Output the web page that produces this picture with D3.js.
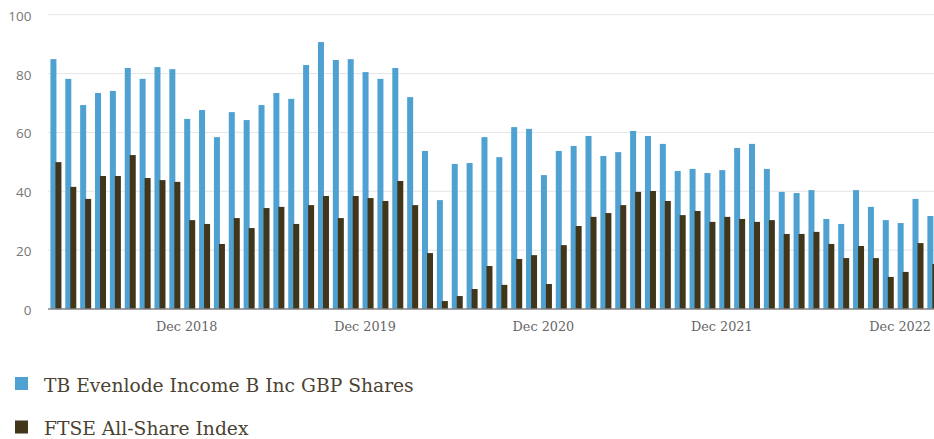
<!DOCTYPE html>
<html>
<head>
<meta charset="utf-8">
<script src="https://cdn.jsdelivr.net/npm/d3@7"></script>
<style>
    html, body { margin: 0; padding: 0; background: #fff; }
    svg { display: block; }
</style>
</head>
<body>
<div id="chart"></div>
<script>
const months = [
    'Mar 2018', 'Apr 2018', 'May 2018', 'Jun 2018', 'Jul 2018', 'Aug 2018', 'Sep 2018', 'Oct 2018', 'Nov 2018', 'Dec 2018',
    'Jan 2019', 'Feb 2019', 'Mar 2019', 'Apr 2019', 'May 2019', 'Jun 2019', 'Jul 2019', 'Aug 2019', 'Sep 2019', 'Oct 2019',
    'Nov 2019', 'Dec 2019', 'Jan 2020', 'Feb 2020', 'Mar 2020', 'Apr 2020', 'May 2020', 'Jun 2020', 'Jul 2020', 'Aug 2020',
    'Sep 2020', 'Oct 2020', 'Nov 2020', 'Dec 2020', 'Jan 2021', 'Feb 2021', 'Mar 2021', 'Apr 2021', 'May 2021', 'Jun 2021',
    'Jul 2021', 'Aug 2021', 'Sep 2021', 'Oct 2021', 'Nov 2021', 'Dec 2021', 'Jan 2022', 'Feb 2022', 'Mar 2022', 'Apr 2022',
    'May 2022', 'Jun 2022', 'Jul 2022', 'Aug 2022', 'Sep 2022', 'Oct 2022', 'Nov 2022', 'Dec 2022', 'Jan 2023', 'Feb 2023'
];

const fundValues = [
    84.9, 78.2, 69.3, 73.4, 74.1, 81.9, 78.2, 82.2, 81.5, 64.6,
    67.6, 58.4, 66.9, 64.2, 69.3, 73.4, 71.4, 82.9, 90.7, 84.6,
    84.9, 80.5, 78.2, 81.9, 72.0, 53.7, 37.0, 49.3, 49.6, 58.4,
    51.6, 61.8, 61.2, 45.5, 53.7, 55.4, 58.8, 52.0, 53.3, 60.5,
    58.8, 56.1, 46.9, 47.6, 46.2, 47.2, 54.7, 56.1, 47.6, 39.8,
    39.4, 40.4, 30.6, 28.9, 40.4, 34.7, 30.2, 29.2, 37.4, 31.6
];

const indexValues = [
    49.9, 41.5, 37.4, 45.2, 45.2, 52.3, 44.5, 43.8, 43.2, 30.2,
    28.9, 22.1, 30.9, 27.5, 34.3, 34.7, 28.9, 35.3, 38.4, 30.9,
    38.4, 37.7, 36.7, 43.5, 35.3, 19.0, 2.7, 4.4, 6.8, 14.6,
    8.2, 17.0, 18.3, 8.5, 21.7, 28.2, 31.3, 32.6, 35.3, 39.8,
    40.1, 36.7, 31.9, 33.3, 29.6, 31.3, 30.6, 29.6, 30.2, 25.5,
    25.5, 26.2, 22.1, 17.3, 21.4, 17.3, 10.9, 12.6, 22.4, 15.3
];

const tickMonths = ['Dec 2018', 'Dec 2019', 'Dec 2020', 'Dec 2021', 'Dec 2022'];
const yTicks = [0, 20, 40, 60, 80, 100];

const seriesNames = ['TB Evenlode Income B Inc GBP Shares', 'FTSE All-Share Index'];
const seriesColors = ['#4fa1d2', '#41361a'];

const width = 934;
const height = 439;

const svg = d3.select('#chart')
    .append('svg')
    .attr('width', width)
    .attr('height', height);

const xScale = d3.scaleBand()
    .domain(months)
    .range([48.5, 940.3])
    .paddingInner(0)
    .paddingOuter(0);

const yScale = d3.scaleLinear()
    .domain([0, 100])
    .range([309, 14.7]);

const barWidth = 6;

// Grid lines
svg.append('g')
    .classed('grid', true)
    .selectAll('line')
    .data(yTicks.filter(d => d > 0))
    .enter()
    .append('line')
    .attr('x1', 48)
    .attr('x2', width)
    .attr('y1', d => yScale(d))
    .attr('y2', d => yScale(d))
    .attr('stroke', '#e6e6e6')
    .attr('stroke-width', 1);

// Y labels
svg.append('g')
    .classed('y-axis', true)
    .selectAll('text')
    .data(yTicks)
    .enter()
    .append('text')
    .attr('x', 31.5)
    .attr('y', d => yScale(d) + 6)
    .attr('text-anchor', 'end')
    .attr('font-family', '"Open Sans", sans-serif')
    .attr('font-size', 13.5)
    .attr('fill', '#777')
    .text(d => d);

// Fund bars
svg.append('g')
    .classed('fund-bars', true)
    .selectAll('rect')
    .data(fundValues)
    .enter()
    .append('rect')
    .attr('x', (d, i) => xScale(months[i]) + xScale.bandwidth() / 2 - 5.5)
    .attr('y', d => yScale(d))
    .attr('width', barWidth)
    .attr('height', d => yScale(0) - yScale(d))
    .attr('fill', seriesColors[0]);

// Index bars
svg.append('g')
    .classed('index-bars', true)
    .selectAll('rect')
    .data(indexValues)
    .enter()
    .append('rect')
    .attr('x', (d, i) => xScale(months[i]) + xScale.bandwidth() / 2 - 0.5)
    .attr('y', d => yScale(d))
    .attr('width', barWidth)
    .attr('height', d => yScale(0) - yScale(d))
    .attr('fill', seriesColors[1]);

// Baseline
svg.append('line')
    .attr('x1', 48)
    .attr('x2', width)
    .attr('y1', yScale(0))
    .attr('y2', yScale(0))
    .attr('stroke', '#808080')
    .attr('stroke-width', 1.5);

// X labels
svg.append('g')
    .classed('x-axis', true)
    .selectAll('text')
    .data(tickMonths)
    .enter()
    .append('text')
    .attr('x', d => xScale(d) + xScale.bandwidth() / 2 - 3)
    .attr('y', 331.3)
    .attr('text-anchor', 'middle')
    .attr('font-family', '"DejaVu Serif", serif')
    .attr('font-size', 12.8)
    .attr('fill', '#666')
    .text(d => d);

// Legend
const legend = svg.append('g')
    .classed('legend', true)
    .selectAll('g')
    .data(seriesNames)
    .enter()
    .append('g')
    .attr('transform', (d, i) => `translate(15, ${377 + i * 43.5})`);

legend.append('rect')
    .attr('width', 13)
    .attr('height', 13)
    .attr('fill', (d, i) => seriesColors[i]);

legend.append('text')
    .attr('x', 29)
    .attr('y', 14.7)
    .attr('font-family', '"DejaVu Serif", serif')
    .attr('font-size', 18.7)
    .attr('fill', '#4a4232')
    .text(d => d);
</script>
</body>
</html>
